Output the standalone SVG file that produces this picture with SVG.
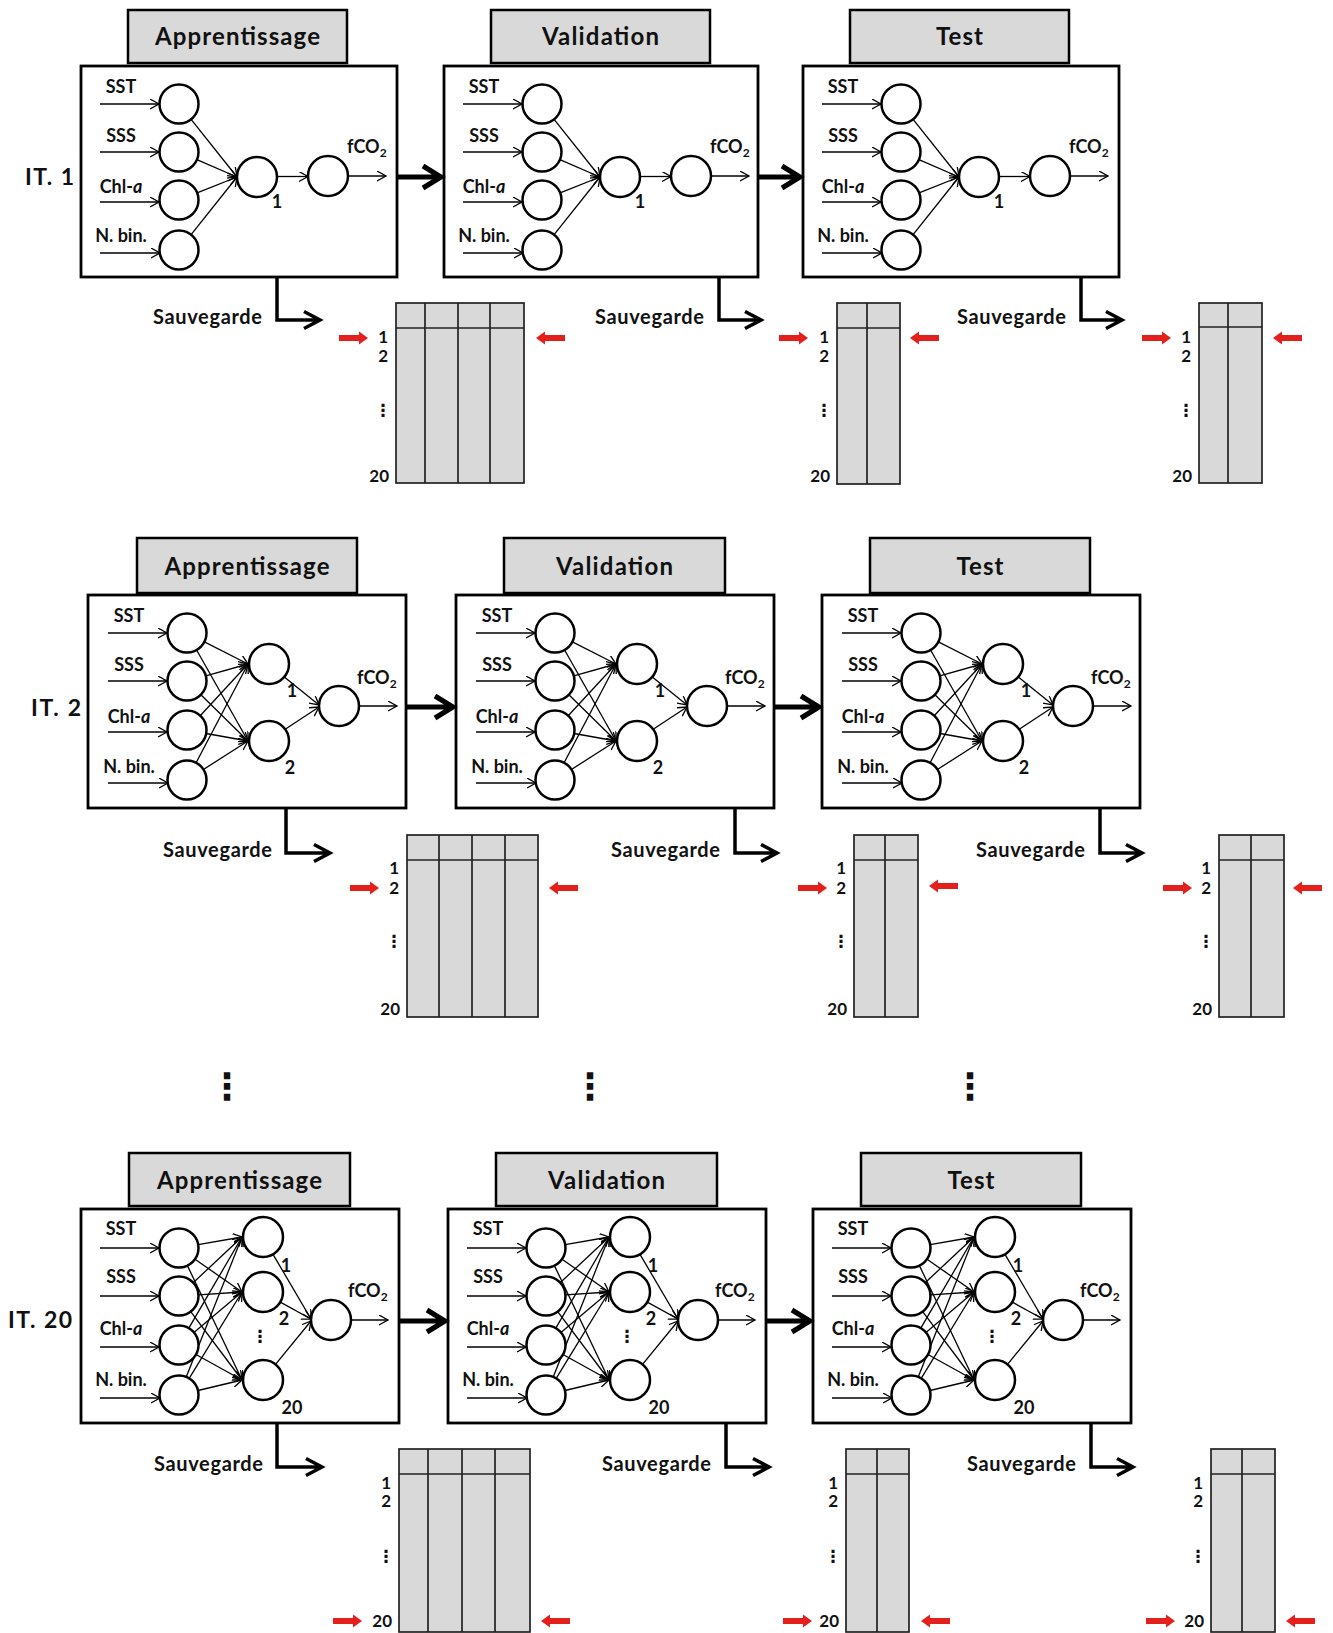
<svg xmlns="http://www.w3.org/2000/svg" xmlns:xlink="http://www.w3.org/1999/xlink" width="1333" height="1633" viewBox="0 0 1333 1633">
<style>
text{font-family:Lato,'Liberation Sans',sans-serif;font-weight:700;fill:#111}
.hdr{fill:#d9d9d9;stroke:#000;stroke-width:2.5}
.box{fill:#fff;stroke:#000;stroke-width:2.8}
.n{fill:#fff;stroke:#000;stroke-width:2.5}
.a{stroke:#000;stroke-width:1.3;fill:none;marker-end:url(#ah)}
.ht{font-size:24px;text-anchor:middle}
.lb{font-size:18px;text-anchor:middle}
.fc{font-size:18px;text-anchor:start}
.it{font-size:23px}
.sv{font-size:20px;text-anchor:end}
.rn{font-size:17px;text-anchor:end}
.vd{font-size:17px;text-anchor:middle;font-family:'DejaVu Sans',sans-serif}
.bd{font-size:36px;text-anchor:middle;font-family:'DejaVu Sans',sans-serif}
.tb{fill:#d9d9d9;stroke:#222;stroke-width:1.7}
.tl{stroke:#222;stroke-width:1.7}
.big{stroke:#000;stroke-width:5;fill:none}
.sav{stroke:#000;stroke-width:3.5;fill:none}
</style>
<defs>
<marker id="ah" markerUnits="userSpaceOnUse" markerWidth="12" markerHeight="12" refX="9" refY="5" orient="auto"><path d="M0,0 L9,5 L0,10" fill="none" stroke="#000" stroke-width="1.3"/></marker>
<path id="rr" d="M0,-3 L20,-3 L20,-6.5 L29,0 L20,6.5 L20,3 L0,3 Z" fill="#e3201b"/>
<path id="rl" d="M0,0 L9,-6.5 L9,-3 L29,-3 L29,3 L9,3 L9,6.5 Z" fill="#e3201b"/>
</defs>
<rect width="1333" height="1633" fill="#fff"/>

<text class="it" x="25" y="185" textLength="49">IT. 1</text>
<text class="it" x="31" y="716" textLength="50">IT. 2</text>
<text class="it" x="8" y="1328" textLength="64">IT. 20</text>

<!-- ROW 1 -->
<g id="r1-apprentissage" transform="translate(81,66)">
<rect class="hdr" x="47" y="-56" width="219" height="53"/>
<text class="ht" x="156.5" y="-21" textLength="165">Apprentissage</text>
<rect class="box" x="0" y="0" width="316" height="211"/>
<line class="a" x1="19" y1="38" x2="78" y2="38"/><line class="a" x1="19" y1="86" x2="78" y2="86"/><line class="a" x1="19" y1="136" x2="78" y2="136"/><line class="a" x1="19" y1="187" x2="79" y2="187"/>
<text class="lb" x="40" y="27">SST</text><text class="lb" x="40" y="76">SSS</text><text class="lb" x="40" y="127">Chl-<tspan font-style="italic">a</tspan></text><text class="lb" x="40" y="176">N. bin.</text>
<line class="a" x1="110.1" y1="53.3" x2="156" y2="111"/><line class="a" x1="115.9" y1="93.7" x2="156" y2="111"/><line class="a" x1="116.1" y1="126.8" x2="156" y2="111"/><line class="a" x1="110.1" y1="168.7" x2="156" y2="111"/>
<circle class="n" cx="98" cy="38" r="19.5"/><circle class="n" cx="98" cy="86" r="19.5"/><circle class="n" cx="98" cy="134" r="19.5"/><circle class="n" cx="98" cy="184" r="19.5"/>
<circle class="n" cx="176" cy="111" r="20"/>
<line class="a" x1="196" y1="110.5" x2="227" y2="110.5"/>
<circle class="n" cx="247" cy="110" r="20"/>
<line class="a" x1="267" y1="110" x2="305" y2="110"/>
<text class="fc" x="266" y="87">fCO<tspan font-size="12" dy="4">2</tspan></text>
<text class="lb" x="196" y="142">1</text>
</g>
<g id="r1-validation" transform="translate(444,66)">
<rect class="hdr" x="47" y="-56" width="219" height="53"/>
<text class="ht" x="156.5" y="-21" textLength="117">Validation</text>
<rect class="box" x="0" y="0" width="314" height="211"/>
<line class="a" x1="19" y1="38" x2="78" y2="38"/><line class="a" x1="19" y1="86" x2="78" y2="86"/><line class="a" x1="19" y1="136" x2="78" y2="136"/><line class="a" x1="19" y1="187" x2="79" y2="187"/>
<text class="lb" x="40" y="27">SST</text><text class="lb" x="40" y="76">SSS</text><text class="lb" x="40" y="127">Chl-<tspan font-style="italic">a</tspan></text><text class="lb" x="40" y="176">N. bin.</text>
<line class="a" x1="110.1" y1="53.3" x2="156" y2="111"/><line class="a" x1="115.9" y1="93.7" x2="156" y2="111"/><line class="a" x1="116.1" y1="126.8" x2="156" y2="111"/><line class="a" x1="110.1" y1="168.7" x2="156" y2="111"/>
<circle class="n" cx="98" cy="38" r="19.5"/><circle class="n" cx="98" cy="86" r="19.5"/><circle class="n" cx="98" cy="134" r="19.5"/><circle class="n" cx="98" cy="184" r="19.5"/>
<circle class="n" cx="176" cy="111" r="20"/>
<line class="a" x1="196" y1="110.5" x2="227" y2="110.5"/>
<circle class="n" cx="247" cy="110" r="20"/>
<line class="a" x1="267" y1="110" x2="305" y2="110"/>
<text class="fc" x="266" y="87">fCO<tspan font-size="12" dy="4">2</tspan></text>
<text class="lb" x="196" y="142">1</text>
</g>
<g id="r1-test" transform="translate(803,66)">
<rect class="hdr" x="47" y="-56" width="219" height="53"/>
<text class="ht" x="156.5" y="-21" textLength="47">Test</text>
<rect class="box" x="0" y="0" width="316" height="211"/>
<line class="a" x1="19" y1="38" x2="78" y2="38"/><line class="a" x1="19" y1="86" x2="78" y2="86"/><line class="a" x1="19" y1="136" x2="78" y2="136"/><line class="a" x1="19" y1="187" x2="79" y2="187"/>
<text class="lb" x="40" y="27">SST</text><text class="lb" x="40" y="76">SSS</text><text class="lb" x="40" y="127">Chl-<tspan font-style="italic">a</tspan></text><text class="lb" x="40" y="176">N. bin.</text>
<line class="a" x1="110.1" y1="53.3" x2="156" y2="111"/><line class="a" x1="115.9" y1="93.7" x2="156" y2="111"/><line class="a" x1="116.1" y1="126.8" x2="156" y2="111"/><line class="a" x1="110.1" y1="168.7" x2="156" y2="111"/>
<circle class="n" cx="98" cy="38" r="19.5"/><circle class="n" cx="98" cy="86" r="19.5"/><circle class="n" cx="98" cy="134" r="19.5"/><circle class="n" cx="98" cy="184" r="19.5"/>
<circle class="n" cx="176" cy="111" r="20"/>
<line class="a" x1="196" y1="110.5" x2="227" y2="110.5"/>
<circle class="n" cx="247" cy="110" r="20"/>
<line class="a" x1="267" y1="110" x2="305" y2="110"/>
<text class="fc" x="266" y="87">fCO<tspan font-size="12" dy="4">2</tspan></text>
<text class="lb" x="196" y="142">1</text>
</g>

<!-- ROW 2 -->
<g id="r2-apprentissage" transform="translate(88,595)">
<rect class="hdr" x="49" y="-57" width="220" height="55"/>
<text class="ht" x="159" y="-20" textLength="165">Apprentissage</text>
<rect class="box" x="0" y="0" width="318" height="213"/>
<line class="a" x1="20" y1="38" x2="79" y2="38"/><line class="a" x1="20" y1="86" x2="79" y2="86"/><line class="a" x1="20" y1="137" x2="79" y2="137"/><line class="a" x1="20" y1="188" x2="80" y2="188"/>
<text class="lb" x="41" y="27">SST</text><text class="lb" x="41" y="76">SSS</text><text class="lb" x="41" y="128">Chl-<tspan font-style="italic">a</tspan></text><text class="lb" x="41" y="178">N. bin.</text>
<line class="a" x1="116.4" y1="46.8" x2="160" y2="69"/><line class="a" x1="108.6" y1="55" x2="160" y2="146"/>
<line class="a" x1="117.8" y1="80.8" x2="160" y2="69"/><line class="a" x1="112.9" y1="99.7" x2="160" y2="146"/>
<line class="a" x1="112.2" y1="120.7" x2="160" y2="69"/><line class="a" x1="118.2" y1="138.5" x2="160" y2="146"/>
<line class="a" x1="108.1" y1="167.7" x2="160" y2="69"/><line class="a" x1="115.4" y1="174.5" x2="160" y2="146"/>
<circle class="n" cx="99" cy="38" r="19.5"/><circle class="n" cx="99" cy="86" r="19.5"/><circle class="n" cx="99" cy="135" r="19.5"/><circle class="n" cx="99" cy="185" r="19.5"/>
<circle class="n" cx="181" cy="69" r="20"/><circle class="n" cx="181" cy="146" r="20"/>
<line class="a" x1="196.3" y1="81.9" x2="231" y2="110"/><line class="a" x1="197.2" y1="134.3" x2="231" y2="112"/>
<circle class="n" cx="251" cy="111" r="20"/>
<line class="a" x1="271" y1="111" x2="309" y2="111"/>
<text class="fc" x="269" y="89">fCO<tspan font-size="12" dy="4">2</tspan></text>
<text class="lb" x="204" y="102">1</text><text class="lb" x="202" y="179">2</text>
</g>
<g id="r2-validation" transform="translate(456,595)">
<rect class="hdr" x="48" y="-57" width="221" height="55"/>
<text class="ht" x="158.5" y="-20" textLength="117">Validation</text>
<rect class="box" x="0" y="0" width="318" height="213"/>
<line class="a" x1="20" y1="38" x2="79" y2="38"/><line class="a" x1="20" y1="86" x2="79" y2="86"/><line class="a" x1="20" y1="137" x2="79" y2="137"/><line class="a" x1="20" y1="188" x2="80" y2="188"/>
<text class="lb" x="41" y="27">SST</text><text class="lb" x="41" y="76">SSS</text><text class="lb" x="41" y="128">Chl-<tspan font-style="italic">a</tspan></text><text class="lb" x="41" y="178">N. bin.</text>
<line class="a" x1="116.4" y1="46.8" x2="160" y2="69"/><line class="a" x1="108.6" y1="55" x2="160" y2="146"/>
<line class="a" x1="117.8" y1="80.8" x2="160" y2="69"/><line class="a" x1="112.9" y1="99.7" x2="160" y2="146"/>
<line class="a" x1="112.2" y1="120.7" x2="160" y2="69"/><line class="a" x1="118.2" y1="138.5" x2="160" y2="146"/>
<line class="a" x1="108.1" y1="167.7" x2="160" y2="69"/><line class="a" x1="115.4" y1="174.5" x2="160" y2="146"/>
<circle class="n" cx="99" cy="38" r="19.5"/><circle class="n" cx="99" cy="86" r="19.5"/><circle class="n" cx="99" cy="135" r="19.5"/><circle class="n" cx="99" cy="185" r="19.5"/>
<circle class="n" cx="181" cy="69" r="20"/><circle class="n" cx="181" cy="146" r="20"/>
<line class="a" x1="196.3" y1="81.9" x2="231" y2="110"/><line class="a" x1="197.2" y1="134.3" x2="231" y2="112"/>
<circle class="n" cx="251" cy="111" r="20"/>
<line class="a" x1="271" y1="111" x2="309" y2="111"/>
<text class="fc" x="269" y="89">fCO<tspan font-size="12" dy="4">2</tspan></text>
<text class="lb" x="204" y="102">1</text><text class="lb" x="202" y="179">2</text>
</g>
<g id="r2-test" transform="translate(822,595)">
<rect class="hdr" x="48" y="-57" width="220" height="55"/>
<text class="ht" x="158" y="-20" textLength="47">Test</text>
<rect class="box" x="0" y="0" width="318" height="213"/>
<line class="a" x1="20" y1="38" x2="79" y2="38"/><line class="a" x1="20" y1="86" x2="79" y2="86"/><line class="a" x1="20" y1="137" x2="79" y2="137"/><line class="a" x1="20" y1="188" x2="80" y2="188"/>
<text class="lb" x="41" y="27">SST</text><text class="lb" x="41" y="76">SSS</text><text class="lb" x="41" y="128">Chl-<tspan font-style="italic">a</tspan></text><text class="lb" x="41" y="178">N. bin.</text>
<line class="a" x1="116.4" y1="46.8" x2="160" y2="69"/><line class="a" x1="108.6" y1="55" x2="160" y2="146"/>
<line class="a" x1="117.8" y1="80.8" x2="160" y2="69"/><line class="a" x1="112.9" y1="99.7" x2="160" y2="146"/>
<line class="a" x1="112.2" y1="120.7" x2="160" y2="69"/><line class="a" x1="118.2" y1="138.5" x2="160" y2="146"/>
<line class="a" x1="108.1" y1="167.7" x2="160" y2="69"/><line class="a" x1="115.4" y1="174.5" x2="160" y2="146"/>
<circle class="n" cx="99" cy="38" r="19.5"/><circle class="n" cx="99" cy="86" r="19.5"/><circle class="n" cx="99" cy="135" r="19.5"/><circle class="n" cx="99" cy="185" r="19.5"/>
<circle class="n" cx="181" cy="69" r="20"/><circle class="n" cx="181" cy="146" r="20"/>
<line class="a" x1="196.3" y1="81.9" x2="231" y2="110"/><line class="a" x1="197.2" y1="134.3" x2="231" y2="112"/>
<circle class="n" cx="251" cy="111" r="20"/>
<line class="a" x1="271" y1="111" x2="309" y2="111"/>
<text class="fc" x="269" y="89">fCO<tspan font-size="12" dy="4">2</tspan></text>
<text class="lb" x="204" y="102">1</text><text class="lb" x="202" y="179">2</text>
</g>

<!-- ROW 3 -->
<g id="r3-apprentissage" transform="translate(81,1209)">
<rect class="hdr" x="48" y="-56" width="221" height="53"/>
<text class="ht" x="158.5" y="-20" textLength="165">Apprentissage</text>
<rect class="box" x="0" y="0" width="318" height="214"/>
<line class="a" x1="19" y1="39" x2="78" y2="39"/><line class="a" x1="19" y1="87" x2="78" y2="87"/><line class="a" x1="19" y1="138" x2="78" y2="138"/><line class="a" x1="19" y1="189" x2="79" y2="189"/>
<text class="lb" x="40" y="26">SST</text><text class="lb" x="40" y="74">SSS</text><text class="lb" x="40" y="126">Chl-<tspan font-style="italic">a</tspan></text><text class="lb" x="40" y="177">N. bin.</text>
<line class="a" x1="117.2" y1="35.6" x2="161" y2="28"/><line class="a" x1="114" y1="50.2" x2="161" y2="83"/><line class="a" x1="106.4" y1="56.6" x2="161" y2="171"/>
<line class="a" x1="112.2" y1="73.7" x2="161" y2="28"/><line class="a" x1="117.5" y1="85.8" x2="161" y2="83"/><line class="a" x1="109.7" y1="102.6" x2="161" y2="171"/>
<line class="a" x1="107.8" y1="119.2" x2="161" y2="28"/><line class="a" x1="112.9" y1="123.4" x2="161" y2="83"/><line class="a" x1="115" y1="145.5" x2="161" y2="171"/>
<line class="a" x1="105.2" y1="167.9" x2="161" y2="28"/><line class="a" x1="108.2" y1="169.4" x2="161" y2="83"/><line class="a" x1="117" y1="181.5" x2="161" y2="171"/>
<circle class="n" cx="98" cy="39" r="19.5"/><circle class="n" cx="98" cy="87" r="19.5"/><circle class="n" cx="98" cy="136" r="19.5"/><circle class="n" cx="98" cy="186" r="19.5"/>
<circle class="n" cx="182" cy="28" r="20"/><circle class="n" cx="182" cy="83" r="20"/><circle class="n" cx="182" cy="171" r="20"/>
<line class="a" x1="192" y1="45.3" x2="230" y2="110"/><line class="a" x1="199.3" y1="93.1" x2="230" y2="110"/><line class="a" x1="194.5" y1="155.4" x2="230" y2="112"/>
<circle class="n" cx="250" cy="111" r="20"/>
<line class="a" x1="270" y1="111" x2="307" y2="111"/>
<text class="fc" x="267" y="88">fCO<tspan font-size="12" dy="4">2</tspan></text>
<text class="lb" x="205" y="63">1</text><text class="lb" x="203" y="116">2</text><text class="vd" x="179" y="133">⋮</text><text class="lb" x="211" y="205">20</text>
</g>
<g id="r3-validation" transform="translate(448,1209)">
<rect class="hdr" x="48" y="-56" width="221" height="53"/>
<text class="ht" x="158.5" y="-20" textLength="117">Validation</text>
<rect class="box" x="0" y="0" width="318" height="214"/>
<line class="a" x1="19" y1="39" x2="78" y2="39"/><line class="a" x1="19" y1="87" x2="78" y2="87"/><line class="a" x1="19" y1="138" x2="78" y2="138"/><line class="a" x1="19" y1="189" x2="79" y2="189"/>
<text class="lb" x="40" y="26">SST</text><text class="lb" x="40" y="74">SSS</text><text class="lb" x="40" y="126">Chl-<tspan font-style="italic">a</tspan></text><text class="lb" x="40" y="177">N. bin.</text>
<line class="a" x1="117.2" y1="35.6" x2="161" y2="28"/><line class="a" x1="114" y1="50.2" x2="161" y2="83"/><line class="a" x1="106.4" y1="56.6" x2="161" y2="171"/>
<line class="a" x1="112.2" y1="73.7" x2="161" y2="28"/><line class="a" x1="117.5" y1="85.8" x2="161" y2="83"/><line class="a" x1="109.7" y1="102.6" x2="161" y2="171"/>
<line class="a" x1="107.8" y1="119.2" x2="161" y2="28"/><line class="a" x1="112.9" y1="123.4" x2="161" y2="83"/><line class="a" x1="115" y1="145.5" x2="161" y2="171"/>
<line class="a" x1="105.2" y1="167.9" x2="161" y2="28"/><line class="a" x1="108.2" y1="169.4" x2="161" y2="83"/><line class="a" x1="117" y1="181.5" x2="161" y2="171"/>
<circle class="n" cx="98" cy="39" r="19.5"/><circle class="n" cx="98" cy="87" r="19.5"/><circle class="n" cx="98" cy="136" r="19.5"/><circle class="n" cx="98" cy="186" r="19.5"/>
<circle class="n" cx="182" cy="28" r="20"/><circle class="n" cx="182" cy="83" r="20"/><circle class="n" cx="182" cy="171" r="20"/>
<line class="a" x1="192" y1="45.3" x2="230" y2="110"/><line class="a" x1="199.3" y1="93.1" x2="230" y2="110"/><line class="a" x1="194.5" y1="155.4" x2="230" y2="112"/>
<circle class="n" cx="250" cy="111" r="20"/>
<line class="a" x1="270" y1="111" x2="307" y2="111"/>
<text class="fc" x="267" y="88">fCO<tspan font-size="12" dy="4">2</tspan></text>
<text class="lb" x="205" y="63">1</text><text class="lb" x="203" y="116">2</text><text class="vd" x="179" y="133">⋮</text><text class="lb" x="211" y="205">20</text>
</g>
<g id="r3-test" transform="translate(813,1209)">
<rect class="hdr" x="48" y="-56" width="220" height="53"/>
<text class="ht" x="158" y="-20" textLength="47">Test</text>
<rect class="box" x="0" y="0" width="318" height="214"/>
<line class="a" x1="19" y1="39" x2="78" y2="39"/><line class="a" x1="19" y1="87" x2="78" y2="87"/><line class="a" x1="19" y1="138" x2="78" y2="138"/><line class="a" x1="19" y1="189" x2="79" y2="189"/>
<text class="lb" x="40" y="26">SST</text><text class="lb" x="40" y="74">SSS</text><text class="lb" x="40" y="126">Chl-<tspan font-style="italic">a</tspan></text><text class="lb" x="40" y="177">N. bin.</text>
<line class="a" x1="117.2" y1="35.6" x2="161" y2="28"/><line class="a" x1="114" y1="50.2" x2="161" y2="83"/><line class="a" x1="106.4" y1="56.6" x2="161" y2="171"/>
<line class="a" x1="112.2" y1="73.7" x2="161" y2="28"/><line class="a" x1="117.5" y1="85.8" x2="161" y2="83"/><line class="a" x1="109.7" y1="102.6" x2="161" y2="171"/>
<line class="a" x1="107.8" y1="119.2" x2="161" y2="28"/><line class="a" x1="112.9" y1="123.4" x2="161" y2="83"/><line class="a" x1="115" y1="145.5" x2="161" y2="171"/>
<line class="a" x1="105.2" y1="167.9" x2="161" y2="28"/><line class="a" x1="108.2" y1="169.4" x2="161" y2="83"/><line class="a" x1="117" y1="181.5" x2="161" y2="171"/>
<circle class="n" cx="98" cy="39" r="19.5"/><circle class="n" cx="98" cy="87" r="19.5"/><circle class="n" cx="98" cy="136" r="19.5"/><circle class="n" cx="98" cy="186" r="19.5"/>
<circle class="n" cx="182" cy="28" r="20"/><circle class="n" cx="182" cy="83" r="20"/><circle class="n" cx="182" cy="171" r="20"/>
<line class="a" x1="192" y1="45.3" x2="230" y2="110"/><line class="a" x1="199.3" y1="93.1" x2="230" y2="110"/><line class="a" x1="194.5" y1="155.4" x2="230" y2="112"/>
<circle class="n" cx="250" cy="111" r="20"/>
<line class="a" x1="270" y1="111" x2="307" y2="111"/>
<text class="fc" x="267" y="88">fCO<tspan font-size="12" dy="4">2</tspan></text>
<text class="lb" x="205" y="63">1</text><text class="lb" x="203" y="116">2</text><text class="vd" x="179" y="133">⋮</text><text class="lb" x="211" y="205">20</text>
</g>

<!-- TABLES -->
<g id="tables">
<g id="t1a"><rect class="tb" x="396" y="303" width="128" height="180"/><line class="tl" x1="396" y1="328" x2="524" y2="328"/><line class="tl" x1="425" y1="303" x2="425" y2="483"/><line class="tl" x1="458" y1="303" x2="458" y2="483"/><line class="tl" x1="490" y1="303" x2="490" y2="483"/>
<text class="rn" x="388" y="343">1</text><text class="rn" x="388" y="362">2</text><text class="vd" x="383" y="416">⋮</text><text class="rn" x="389" y="482">20</text>
<use xlink:href="#rr" x="339" y="338"/><use xlink:href="#rl" x="536" y="338"/></g>
<g id="t1v"><rect class="tb" x="837" y="303" width="63" height="181"/><line class="tl" x1="837" y1="328" x2="900" y2="328"/><line class="tl" x1="867" y1="303" x2="867" y2="484"/>
<text class="rn" x="829" y="343">1</text><text class="rn" x="829" y="362">2</text><text class="vd" x="824" y="416">⋮</text><text class="rn" x="830" y="482">20</text>
<use xlink:href="#rr" x="779" y="338"/><use xlink:href="#rl" x="910" y="338"/></g>
<g id="t1t"><rect class="tb" x="1199" y="303" width="63" height="180"/><line class="tl" x1="1199" y1="327" x2="1262" y2="327"/><line class="tl" x1="1228" y1="303" x2="1228" y2="483"/>
<text class="rn" x="1191" y="343">1</text><text class="rn" x="1191" y="362">2</text><text class="vd" x="1186" y="416">⋮</text><text class="rn" x="1192" y="482">20</text>
<use xlink:href="#rr" x="1142" y="338"/><use xlink:href="#rl" x="1273" y="338"/></g>

<g id="t2a"><rect class="tb" x="407" y="835" width="131" height="182"/><line class="tl" x1="407" y1="860" x2="538" y2="860"/><line class="tl" x1="439" y1="835" x2="439" y2="1017"/><line class="tl" x1="472" y1="835" x2="472" y2="1017"/><line class="tl" x1="505" y1="835" x2="505" y2="1017"/>
<text class="rn" x="399" y="874">1</text><text class="rn" x="399" y="894">2</text><text class="vd" x="394" y="947">⋮</text><text class="rn" x="400" y="1015">20</text>
<use xlink:href="#rr" x="350" y="888"/><use xlink:href="#rl" x="549" y="888"/></g>
<g id="t2v"><rect class="tb" x="854" y="835" width="64" height="182"/><line class="tl" x1="854" y1="860" x2="918" y2="860"/><line class="tl" x1="885" y1="835" x2="885" y2="1017"/>
<text class="rn" x="846" y="874">1</text><text class="rn" x="846" y="894">2</text><text class="vd" x="841" y="947">⋮</text><text class="rn" x="847" y="1015">20</text>
<use xlink:href="#rr" x="798" y="888"/><use xlink:href="#rl" x="929" y="886"/></g>
<g id="t2t"><rect class="tb" x="1219" y="835" width="65" height="182"/><line class="tl" x1="1219" y1="860" x2="1284" y2="860"/><line class="tl" x1="1251" y1="835" x2="1251" y2="1017"/>
<text class="rn" x="1211" y="874">1</text><text class="rn" x="1211" y="894">2</text><text class="vd" x="1206" y="947">⋮</text><text class="rn" x="1212" y="1015">20</text>
<use xlink:href="#rr" x="1163" y="888"/><use xlink:href="#rl" x="1293" y="888"/></g>

<g id="t3a"><rect class="tb" x="399" y="1449" width="131" height="183"/><line class="tl" x1="399" y1="1474" x2="530" y2="1474"/><line class="tl" x1="428" y1="1449" x2="428" y2="1632"/><line class="tl" x1="462" y1="1449" x2="462" y2="1632"/><line class="tl" x1="495" y1="1449" x2="495" y2="1632"/>
<text class="rn" x="391" y="1489">1</text><text class="rn" x="391" y="1507">2</text><text class="vd" x="386" y="1562">⋮</text><text class="rn" x="392" y="1627">20</text>
<use xlink:href="#rr" x="333" y="1621"/><use xlink:href="#rl" x="541" y="1621"/></g>
<g id="t3v"><rect class="tb" x="846" y="1449" width="63" height="183"/><line class="tl" x1="846" y1="1474" x2="909" y2="1474"/><line class="tl" x1="877" y1="1449" x2="877" y2="1632"/>
<text class="rn" x="838" y="1489">1</text><text class="rn" x="838" y="1507">2</text><text class="vd" x="833" y="1562">⋮</text><text class="rn" x="839" y="1627">20</text>
<use xlink:href="#rr" x="783" y="1621"/><use xlink:href="#rl" x="921" y="1621"/></g>
<g id="t3t"><rect class="tb" x="1211" y="1449" width="64" height="183"/><line class="tl" x1="1211" y1="1474" x2="1275" y2="1474"/><line class="tl" x1="1242" y1="1449" x2="1242" y2="1632"/>
<text class="rn" x="1203" y="1489">1</text><text class="rn" x="1203" y="1507">2</text><text class="vd" x="1198" y="1562">⋮</text><text class="rn" x="1204" y="1627">20</text>
<use xlink:href="#rr" x="1146" y="1621"/><use xlink:href="#rl" x="1286" y="1621"/></g>
</g>

<!-- CONNECTORS -->
<g id="connectors">
<path class="big" d="M397,177 H440 M423,166 L441,177 L423,188"/>
<path class="big" d="M758,177 H799 M782,166 L800,177 L782,188"/>
<path class="big" d="M406,707 H452 M435,696 L453,707 L435,718"/>
<path class="big" d="M774,707 H818 M801,696 L819,707 L801,718"/>
<path class="big" d="M399,1321 H444 M427,1310 L445,1321 L427,1332"/>
<path class="big" d="M766,1321 H809 M792,1310 L810,1321 L792,1332"/>

<path class="sav" d="M277,277 V320 H318 M304,311.5 L320,320 L304,328.5"/>
<path class="sav" d="M719,277 V320 H759 M745,311.5 L761,320 L745,328.5"/>
<path class="sav" d="M1081,277 V320 H1120 M1106,311.5 L1122,320 L1106,328.5"/>
<path class="sav" d="M286,808 V853 H328 M314,844.5 L330,853 L314,861.5"/>
<path class="sav" d="M735,808 V853 H775 M761,844.5 L777,853 L761,861.5"/>
<path class="sav" d="M1100,808 V853 H1140 M1126,844.5 L1142,853 L1126,861.5"/>
<path class="sav" d="M277,1423 V1467 H320 M306,1458.5 L322,1467 L306,1475.5"/>
<path class="sav" d="M726,1423 V1467 H767 M753,1458.5 L769,1467 L753,1475.5"/>
<path class="sav" d="M1091,1423 V1467 H1131 M1117,1458.5 L1133,1467 L1117,1475.5"/>
</g>
<text class="sv" x="262" y="324" textLength="109">Sauvegarde</text>
<text class="sv" x="704" y="324" textLength="109">Sauvegarde</text>
<text class="sv" x="1066" y="324" textLength="109">Sauvegarde</text>
<text class="sv" x="272" y="857" textLength="109">Sauvegarde</text>
<text class="sv" x="720" y="857" textLength="109">Sauvegarde</text>
<text class="sv" x="1085" y="857" textLength="109">Sauvegarde</text>
<text class="sv" x="263" y="1471" textLength="109">Sauvegarde</text>
<text class="sv" x="711" y="1471" textLength="109">Sauvegarde</text>
<text class="sv" x="1076" y="1471" textLength="109">Sauvegarde</text>

<text class="bd" x="227" y="1099">⋮</text>
<text class="bd" x="590" y="1099">⋮</text>
<text class="bd" x="970" y="1099">⋮</text>
</svg>
